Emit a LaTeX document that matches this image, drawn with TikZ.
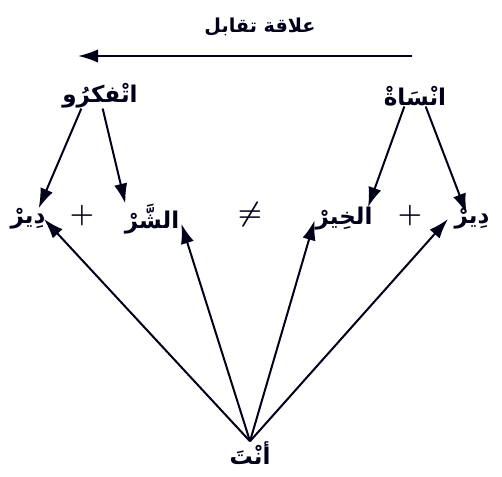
\documentclass[tikz,border=0pt]{standalone}
\usepackage{fontspec}
\usetikzlibrary{arrows.meta}
\newfontfamily\arabicfont[Script=Arabic]{DejaVu Sans}
\TeXXeTstate=1
\colorlet{ink}{black!90!blue}
\tikzset{
  word/.style={font=\arabicfont\bfseries\LARGE, text=ink, inner sep=2pt},
  sign/.style={font=\huge\boldmath, text=ink, inner sep=2pt},
  arr/.style={-{Latex[length=15pt,width=10pt]}, line width=1.5pt, draw=ink}
}
\begin{document}
\begin{tikzpicture}[x=0.75pt,y=-0.75pt]
  \useasboundingbox (0,0) rectangle (502,476);
  % relation on top
  \node[word,font=\arabicfont\bfseries\Large] (rel) at (260,27) {\beginR علاقة تقابل\endR};
  \coordinate (rs) at (412,56);
  \coordinate (re) at (78,56);
  \draw[arr] (rs) -- (re);
  % the two heads
  \node[word] (fikr) at (100,96) {\beginR اتْفكرُو\endR};
  \node[word] (nsah) at (415,96) {\beginR انْسَاةْ\endR};
  % middle row
  \node[word] (dirl) at (28,219) {\beginR دِيرْ\endR};
  \node[sign] (plusl) at (82,216) {$+$};
  \node[word] (shar) at (152,219) {\beginR الشَّرْ\endR};
  \node[sign] (neq) at (250,215) {$\neq$};
  \node[word] (khayr) at (344,219) {\beginR الخِيرْ\endR};
  \node[sign] (plusr) at (410,216) {$+$};
  \node[word] (dirr) at (472,219) {\beginR دِيرْ\endR};
  % bottom
  \node[word] (anta) at (250,453) {\beginR أنْتَ\endR};
  % arrows from the heads
  \draw[arr] ([xshift=-14,yshift=2]fikr.south) -- ([xshift=8,yshift=-2]dirl.north);
  \draw[arr] ([xshift=2,yshift=2]fikr.south) -- ([xshift=-20,yshift=-2]shar.north);
  \draw[arr] ([xshift=-8,yshift=2]nsah.south) -- ([xshift=18,yshift=-2]khayr.north);
  \draw[arr] ([xshift=8,yshift=2]nsah.south) -- ([xshift=-4,yshift=-6]dirr.north);
  % arrows from anta
  \draw[arr] ([yshift=-2]anta.north) -- ([xshift=12,yshift=10]dirl.south);
  \draw[arr] ([yshift=-2]anta.north) -- ([xshift=22,yshift=10]shar.south);
  \draw[arr] ([yshift=-2]anta.north) -- ([xshift=-22,yshift=10]khayr.south);
  \draw[arr] ([yshift=-2]anta.north) -- ([xshift=-18,yshift=10]dirr.south);
\end{tikzpicture}
\end{document}
